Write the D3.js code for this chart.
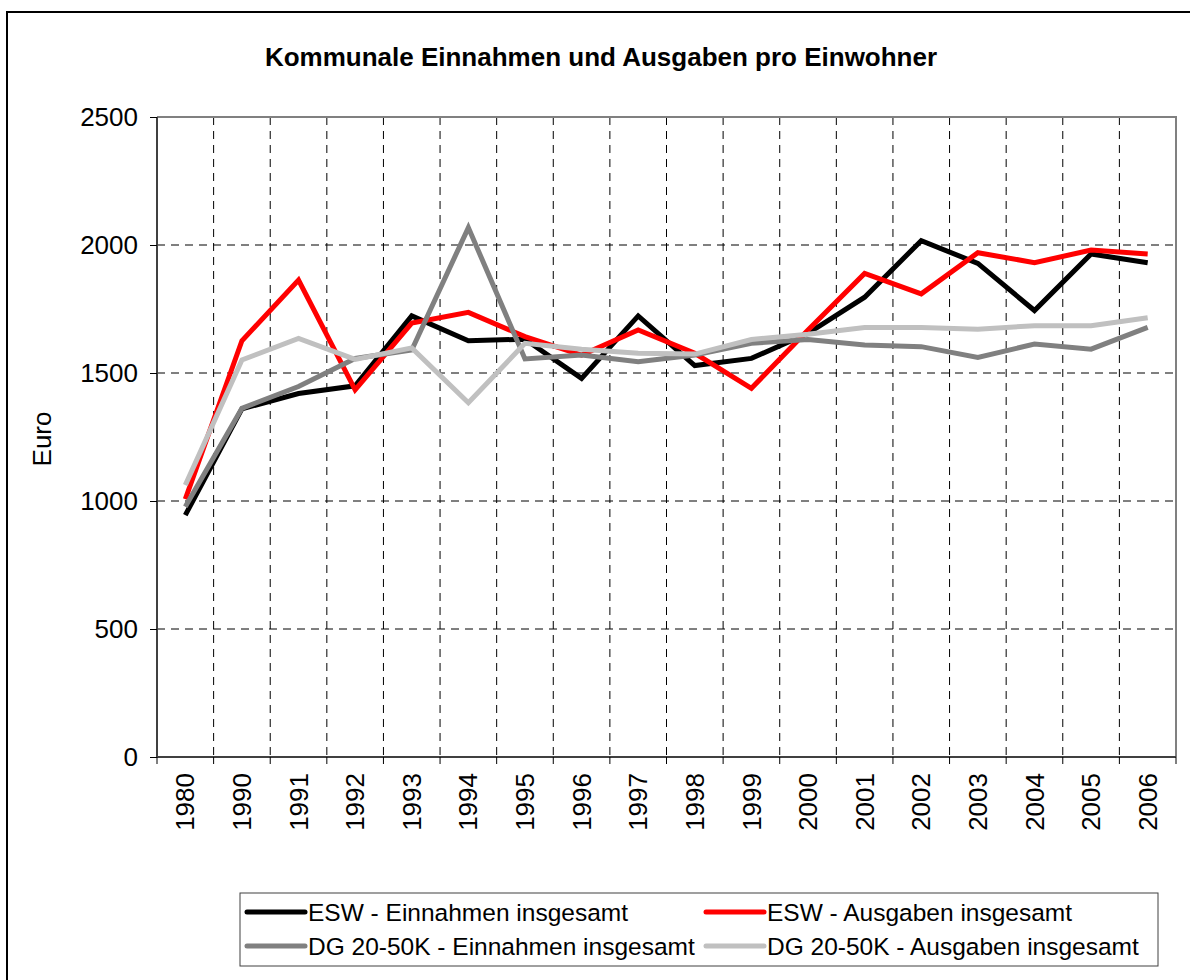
<!DOCTYPE html>
<html>
<head>
<meta charset="utf-8">
<script src="https://cdn.jsdelivr.net/npm/d3@7"></script>
<style>
  body { margin: 0; background: #fff; }
  svg { display: block; }
</style>
</head>
<body>
<svg width="1190" height="980"></svg>
<script>
  const years = ['1980', '1990', '1991', '1992', '1993', '1994', '1995', '1996', '1997',
    '1998', '1999', '2000', '2001', '2002', '2003', '2004', '2005', '2006'];
  const eswEinnahmen = [945, 1360, 1420, 1450, 1723, 1626, 1632, 1479, 1723,
    1529, 1557, 1655, 1796, 2017, 1928, 1744, 1965, 1931];
  const eswAusgaben = [1007, 1626, 1863, 1434, 1695, 1737, 1642, 1570, 1668,
    1577, 1440, 1668, 1889, 1809, 1970, 1931, 1980, 1965];
  const dgEinnahmen = [978, 1362, 1447, 1557, 1590, 2068, 1555, 1570, 1544,
    1570, 1616, 1631, 1609, 1603, 1561, 1613, 1593, 1678];
  const dgAusgaben = [1062, 1551, 1635, 1553, 1598, 1384, 1616, 1593, 1577,
    1574, 1631, 1651, 1678, 1678, 1671, 1685, 1685, 1716];
  const yTicks = [0, 500, 1000, 1500, 2000, 2500];

  const series = [
    { name: 'ESW - Einnahmen insgesamt', values: eswEinnahmen, color: '#000000' },
    { name: 'ESW - Ausgaben insgesamt', values: eswAusgaben, color: '#ff0000' },
    { name: 'DG 20-50K - Einnahmen insgesamt', values: dgEinnahmen, color: '#808080' },
    { name: 'DG 20-50K - Ausgaben insgesamt', values: dgAusgaben, color: '#c0c0c0' }
  ];

  const font = '"Liberation Sans", Arial, sans-serif';
  const svg = d3.select('svg').attr('font-family', font);
  const margin = { top: 117, left: 157, right: 14, bottom: 223 };
  const width = +svg.attr('width');
  const height = +svg.attr('height');
  const innerWidth = width - margin.left - margin.right;
  const innerHeight = height - margin.top - margin.bottom;

  // outer chart border, only left and top edges are in the picture
  svg.append('path')
    .attr('d', `M7,${height}V12H${width}`)
    .attr('fill', 'none')
    .attr('stroke', '#000')
    .attr('stroke-width', 2);

  svg.append('text')
    .attr('x', 601).attr('y', 66)
    .attr('text-anchor', 'middle')
    .attr('font-family', font)
    .attr('font-weight', 'bold')
    .attr('font-size', 26)
    .text('Kommunale Einnahmen und Ausgaben pro Einwohner');

  const xScale = d3.scaleBand()
    .domain(years)
    .range([0, innerWidth]);

  const yScale = d3.scaleLinear()
    .domain([0, 2500])
    .range([innerHeight, 0]);

  const g = svg.append('g')
    .attr('transform', `translate(${margin.left},${margin.top})`);

  // dashed grid
  g.append('g').selectAll('line').data(yTicks.filter(d => d > 0 && d < 2500))
    .enter().append('line')
      .attr('x1', 0).attr('x2', innerWidth)
      .attr('y1', d => yScale(d)).attr('y2', d => yScale(d))
      .attr('stroke', '#000')
      .attr('stroke-dasharray', '8,6');

  g.append('g').selectAll('line').data(years.slice(1))
    .enter().append('line')
      .attr('x1', d => xScale(d)).attr('x2', d => xScale(d))
      .attr('y1', 0).attr('y2', innerHeight)
      .attr('stroke', '#000')
      .attr('stroke-dasharray', '8,6');

  // plot frame
  g.append('path')
    .attr('d', `M0,0H${innerWidth}V${innerHeight}`)
    .attr('fill', 'none')
    .attr('stroke', '#808080')
    .attr('stroke-width', 2);

  // y axis
  const yAxis = d3.axisLeft(yScale)
    .tickValues(yTicks)
    .tickFormat(d3.format('d'))
    .tickSize(7)
    .tickPadding(12);
  const yAxisG = g.append('g').call(yAxis)
    .attr('font-family', font)
    .attr('font-size', 26);
  yAxisG.select('.domain')
    .attr('d', `M0,0V${innerHeight}`)
    .attr('stroke', '#404040')
    .attr('stroke-width', 2);
  yAxisG.selectAll('.tick line').attr('stroke', '#000');
  yAxisG.selectAll('.tick text').attr('fill', '#000');

  // x axis, ticks between categories
  const xAxisG = g.append('g')
    .attr('transform', `translate(0,${innerHeight})`);
  xAxisG.append('line')
    .attr('x1', 0).attr('x2', innerWidth)
    .attr('stroke', '#404040')
    .attr('stroke-width', 2);
  xAxisG.selectAll('.tick-mark').data(years.concat(['end']))
    .enter().append('line')
      .attr('class', 'tick-mark')
      .attr('x1', (d, i) => i * xScale.bandwidth())
      .attr('x2', (d, i) => i * xScale.bandwidth())
      .attr('y1', 0).attr('y2', 7)
      .attr('stroke', '#000');
  xAxisG.selectAll('.year').data(years)
    .enter().append('text')
      .attr('class', 'year')
      .attr('transform', d => `translate(${xScale(d) + xScale.bandwidth() / 2},16) rotate(-90)`)
      .attr('text-anchor', 'end')
      .attr('dy', '0.35em')
      .attr('font-family', font)
      .attr('font-size', 26)
      .text(d => d);

  svg.append('text')
    .attr('transform', 'translate(51,439) rotate(-90)')
    .attr('text-anchor', 'middle')
    .attr('font-family', font)
    .attr('font-size', 26)
    .text('Euro');

  // lines
  const line = d3.line()
    .x((d, i) => xScale(years[i]) + xScale.bandwidth() / 2)
    .y(d => yScale(d));

  g.selectAll('.series').data(series)
    .enter().append('path')
      .attr('class', 'series')
      .attr('d', d => line(d.values))
      .attr('fill', 'none')
      .attr('stroke', d => d.color)
      .attr('stroke-width', 5)
      .attr('stroke-linejoin', 'miter');

  // legend
  const legend = svg.append('g');
  legend.append('rect')
    .attr('x', 240).attr('y', 893)
    .attr('width', 918).attr('height', 73)
    .attr('fill', '#fff')
    .attr('stroke', '#404040')
    .attr('stroke-width', 1);

  const legendPos = [
    { x: 247, y: 912 }, { x: 706, y: 912 },
    { x: 247, y: 946 }, { x: 706, y: 946 }
  ];
  const item = legend.selectAll('.item').data(series)
    .enter().append('g')
      .attr('class', 'item')
      .attr('transform', (d, i) => `translate(${legendPos[i].x},${legendPos[i].y})`);
  item.append('line')
    .attr('x1', 0).attr('x2', 58)
    .attr('stroke', d => d.color)
    .attr('stroke-width', 5)
    .attr('stroke-linecap', 'round');
  item.append('text')
    .attr('x', 61)
    .attr('dy', '0.35em')
    .attr('font-family', font)
    .attr('font-size', 24.5)
    .text(d => d.name);
</script>
</body>
</html>
